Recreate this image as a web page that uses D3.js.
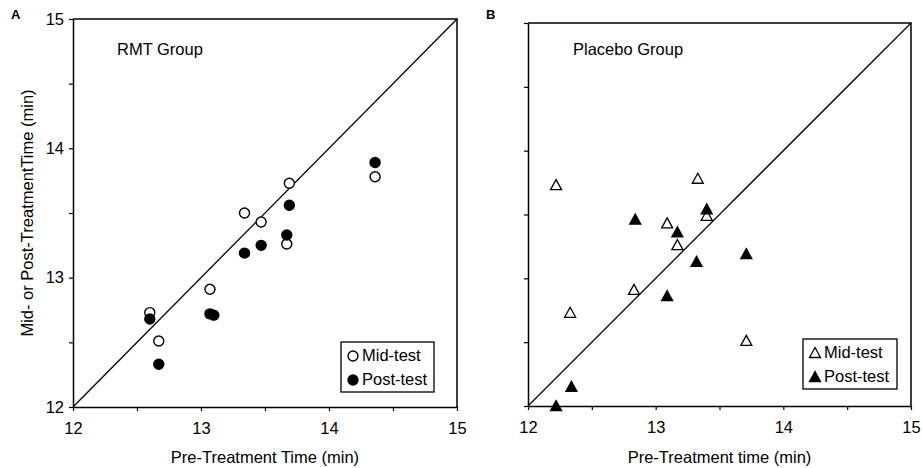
<!DOCTYPE html>
<html>
<head>
<meta charset="utf-8">
<script src="https://cdn.jsdelivr.net/npm/d3@7"></script>
<style>
  body { margin: 0; background: #fff; }
  svg { display: block; font-family: "Liberation Sans", Arial, sans-serif; }
</style>
</head>
<body>
<svg id="chart" width="922" height="468"></svg>
<script>
// RMT group (panel A)
let rmtMidX  = [12.60, 12.67, 13.07, 13.34, 13.47, 13.67, 13.69, 14.36];
let rmtMidY  = [12.73, 12.51, 12.91, 13.50, 13.43, 13.26, 13.73, 13.78];
let rmtPostX = [12.60, 12.67, 13.07, 13.10, 13.34, 13.47, 13.67, 13.69, 14.36];
let rmtPostY = [12.68, 12.33, 12.72, 12.71, 13.19, 13.25, 13.33, 13.56, 13.89];

// Placebo group (panel B)
let plaMidX  = [12.22, 13.33, 13.09, 13.40, 13.17, 12.83, 12.33, 13.71];
let plaMidY  = [13.73, 13.78, 13.43, 13.49, 13.26, 12.91, 12.73, 12.51];
let plaPostX = [12.84, 13.40, 13.17, 13.71, 13.32, 13.09, 12.34, 12.22];
let plaPostY = [13.46, 13.54, 13.36, 13.19, 13.13, 12.86, 12.15, 12.00];

let domain = [12, 15];
let tickVals = [12, 12.5, 13, 13.5, 14, 14.5, 15];
let legendLabels = ["Mid-test", "Post-test"];

let svg = d3.select("#chart");
let fontSize = "16.5px";

let drawPanel = (p) => {
    let x = d3.scaleLinear().domain(domain).range([p.left, p.right]);
    let y = d3.scaleLinear().domain(domain).range([p.bottom, p.top]);
    let g = svg.append("g");

    // frame top + right
    g.append("path")
        .attr("d", "M" + p.left + "," + p.top + "H" + p.right + "V" + p.bottom)
        .attr("fill", "none").attr("stroke", "black").attr("stroke-width", 1.5);

    let fmt = d => Number.isInteger(d) && p.yLabels ? d : "";
    let xAxis = g.append("g")
        .attr("transform", "translate(0," + p.bottom + ")")
        .call(d3.axisBottom(x).tickValues(tickVals).tickSize(4).tickSizeOuter(0)
            .tickFormat(d => Number.isInteger(d) ? d : ""));
    let yAxis = g.append("g")
        .attr("transform", "translate(" + p.left + ",0)")
        .call(d3.axisLeft(y).tickValues(tickVals).tickSize(4).tickSizeOuter(0).tickFormat(fmt));
    for (let ax of [xAxis, yAxis]) {
        ax.select(".domain").attr("stroke-width", 1.5);
        ax.selectAll(".tick line").attr("stroke-width", 1.2);
        ax.selectAll("text").style("font-size", fontSize).attr("fill", "black")
            .style("font-family", "'Liberation Sans', Arial, sans-serif");
    }
    xAxis.selectAll("text").attr("dy", "1.2em");
    yAxis.selectAll("text").attr("x", -9);

    // identity line
    g.append("line")
        .attr("x1", x(12)).attr("y1", y(12)).attr("x2", x(15)).attr("y2", y(15))
        .attr("stroke", "black").attr("stroke-width", 1.3);

    let marker = (sel, cx, cy, filled) => {
        if (p.shape == "circle") {
            sel.append("circle").attr("cx", cx).attr("cy", cy).attr("r", 5)
                .attr("fill", filled ? "black" : "white")
                .attr("stroke", "black").attr("stroke-width", 1.4);
        } else {
            sel.append("path")
                .attr("d", "M" + cx + "," + (cy - 5.5) + "L" + (cx + 5.5) + "," + (cy + 4.5) + "L" + (cx - 5.5) + "," + (cy + 4.5) + "Z")
                .attr("fill", filled ? "black" : "white")
                .attr("stroke", "black").attr("stroke-width", 1.3);
        }
    };

    p.midX.forEach((v, i) => marker(g, x(v), y(p.midY[i]), false));
    p.postX.forEach((v, i) => marker(g, x(v), y(p.postY[i]), true));

    // group title
    g.append("text").attr("x", p.titleX).attr("y", 55)
        .style("font-size", fontSize).text(p.title);

    // panel letter
    g.append("text").attr("x", p.letterX).attr("y", 19)
        .style("font-size", "13px").style("font-weight", "bold").text(p.letter);

    // x title
    g.append("text").attr("x", (p.left + p.right) / 2).attr("y", 463)
        .attr("text-anchor", "middle").style("font-size", fontSize).text(p.xTitle);

    if (p.yTitle) {
        g.append("text")
            .attr("transform", "translate(33," + ((p.top + p.bottom) / 2) + ") rotate(-90)")
            .attr("text-anchor", "middle").style("font-size", fontSize).text(p.yTitle);
    }

    // legend
    let lg = g.append("g").attr("transform", "translate(" + p.legend[0] + "," + p.legend[1] + ")");
    lg.append("rect").attr("width", p.legend[2]).attr("height", p.legend[3])
        .attr("fill", "white").attr("stroke", "black").attr("stroke-width", 1.3);
    legendLabels.forEach((lab, i) => {
        marker(lg, 12, 14 + i * 24, i == 1);
        lg.append("text").attr("x", 21).attr("y", 19 + i * 24)
            .style("font-size", fontSize).text(lab);
    });
};

drawPanel({
    left: 73, right: 457, top: 19, bottom: 407,
    midX: rmtMidX, midY: rmtMidY, postX: rmtPostX, postY: rmtPostY,
    shape: "circle", title: "RMT Group", titleX: 117, letter: "A", letterX: 11,
    xTitle: "Pre-Treatment Time (min)", yTitle: "Mid- or Post-TreatmentTime (min)",
    yLabels: true, legend: [341, 342, 93, 50]
});
drawPanel({
    left: 528, right: 911, top: 23, bottom: 406,
    midX: plaMidX, midY: plaMidY, postX: plaPostX, postY: plaPostY,
    shape: "triangle", title: "Placebo Group", titleX: 573, letter: "B", letterX: 486,
    xTitle: "Pre-Treatment time (min)", yTitle: null,
    yLabels: false, legend: [803, 339, 94, 50]
});
</script>
</body>
</html>
